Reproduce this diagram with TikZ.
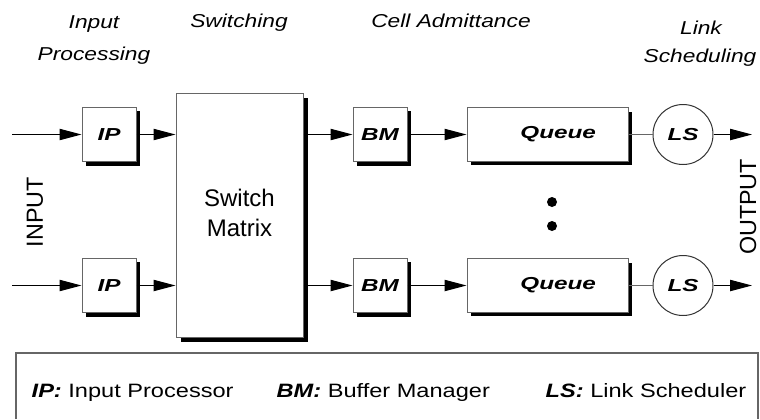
\documentclass[tikz,border=0pt]{standalone}
\usepackage{fontspec}
\setmainfont{Liberation Sans}
\newfontfamily\widefont[FakeStretch=1.22]{Liberation Sans}
\newfontfamily\labelfont[FakeStretch=1.4]{Liberation Sans}
\usetikzlibrary{positioning, arrows.meta}

\begin{document}
\begin{tikzpicture}[x=0.75pt, y=-0.75pt,
    blk/.style={draw=black!60, line width=0.75pt, fill=white, inner sep=0pt,
      font=\labelfont\fontsize{13}{15}\selectfont\bfseries\itshape},
    sched/.style={draw=black!80, line width=0.75pt, fill=white, circle, inner sep=0pt,
      minimum size=45pt, font=\labelfont\fontsize{13}{15}\selectfont\bfseries\itshape},
    flow/.style={line width=0.75pt, -{Triangle[length=16.5pt, width=8.5pt]}},
    stage/.style={anchor=base, font=\widefont\fontsize{14}{16}\selectfont\itshape},
    legend/.style={font=\widefont\fontsize{14.5}{17}\selectfont}]
    \useasboundingbox (0,0) rectangle (760,419);
    % Stufen
    \node[stage] (hIn) at (94,28) {Input};
    \node[stage] (hProc) at (94,60) {Processing};
    \node[stage] (hSw) at (239,27) {Switching};
    \node[stage] (hCell) at (451,27) {Cell Admittance};
    \node[stage] (hLink) at (701,34) {Link};
    \node[stage] (hSched) at (700,62) {Scheduling};
    % Koppelfeld mit Schatten
    \fill[black] (181,98) rectangle (308,342);
    \node[blk, minimum width=95.25pt, minimum height=183pt,
      font=\fontsize{18}{22.5}\selectfont] (switch) at (239.5,215)
      {\raisebox{5pt}{\begin{tabular}{@{}c@{}}Switch\\Matrix\end{tabular}}};
    % Zeilen oben (A) und unten (B)
    \foreach \r/\y in {A/134.5, B/285.5} {
      \coordinate (in\r) at (12,\y);
      \coordinate (out\r) at (752,\y);
      \fill[black] (86,{\y-23.5}) rectangle (140,{\y+31.5});
      \fill[black] (357,{\y-23.5}) rectangle (411,{\y+31.5});
      \fill[black] (471,{\y-22.7}) rectangle (632,{\y+30.7});
      \node[blk, minimum width=40.5pt, minimum height=41pt] (ip\r) at (109,\y) {IP};
      \node[blk, minimum width=40.5pt, minimum height=41pt] (bm\r) at (380,\y) {BM};
      \node[blk, minimum width=120.75pt, minimum height=40pt] (queue\r) at (547.5,\y) {\hspace*{16pt}Queue};
      \node[sched] (ls\r) at (683,\y) {LS};
      \draw[flow] (in\r) -- (ip\r);
      \draw[flow] (ip\r) -- (ip\r.east -| switch.west);
      \draw[flow] (switch.east |- bm\r.west) -- (bm\r);
      \draw[flow] (bm\r) -- (queue\r);
      \draw[black!60, line width=0.75pt] (queue\r) -- (ls\r);
      \draw[flow] (ls\r) -- (out\r);
    }
    % Punkte
    \fill (552,202) circle (5);
    \fill (552,226) circle (5);
    % Ein- und Ausgang
    \node[rotate=90, font=\fontsize{17.5}{20}\selectfont] (input) at (35,212) {INPUT};
    \node[rotate=90, font=\fontsize{17.5}{20}\selectfont] (output) at (748,207) {OUTPUT};
    % Legende
    \draw[black!60, line width=1pt] (16,419) -- (16,353) -- (758,353) -- (758,419);
    \node[legend, anchor=base west] (lgIP) at (27,397) {\textbf{\textit{IP:}} Input Processor};
    \node[legend, anchor=base west] (lgBM) at (272,397) {\textbf{\textit{BM:}} Buffer Manager};
    \node[legend, anchor=base east] (lgLS) at (751,397) {\textbf{\textit{LS:}} Link Scheduler};
\end{tikzpicture}
\end{document}
